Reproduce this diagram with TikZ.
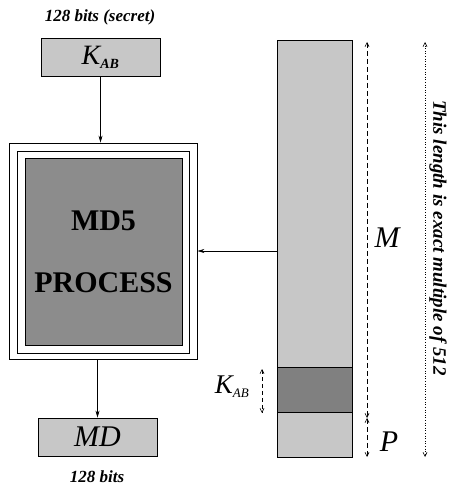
\documentclass[tikz,border=0pt]{standalone}
\usepackage{fontspec}
\setmainfont{Liberation Serif}
\usetikzlibrary{arrows.meta}

\begin{document}
\begin{tikzpicture}[x=1pt, y=-1pt,
    box/.style={draw=black, thick, fill=black!22, inner sep=0pt},
    dark/.style={box, fill=black!50},
    frame/.style={draw=black, thick, inner sep=0pt},
    flow/.style={-{Stealth[length=7pt,width=4pt]}, semithick},
    dim/.style={{Straight Barb[length=4pt,width=4pt]}-{Straight Barb[length=4pt,width=4pt]}, semithick},
    note/.style={font=\fontsize{17}{19}\selectfont\bfseries\itshape},
    big/.style={font=\fontsize{30}{32}\selectfont\itshape},
]
\useasboundingbox (0,0) rectangle (449,489);

% Key and its label
\node[note] (secret) at (100,17) {128 bits (secret)};
\node[box, minimum width=119pt, minimum height=38pt] (kbox) at (100.5,57)
    {\fontsize{28}{30}\selectfont\itshape K\textsubscript{\fontsize{14}{15}\selectfont\bfseries AB}};

% MD5 process, triple frame
\node[frame, minimum width=188pt, minimum height=216pt] (procout) at (103,251) {};
\node[frame, minimum width=172pt, minimum height=202pt] (procmid) at (103,252) {};
\node[dark, fill=black!45, minimum width=157pt, minimum height=187pt, align=center,
      font=\fontsize{30}{62}\selectfont\bfseries] (procin) at (103.5,251.5)
    {MD5\\PROCESS};

% Digest
\node[box, minimum width=119pt, minimum height=38pt] (mdbox) at (97.5,437)
    {\fontsize{30}{32}\selectfont\itshape MD};
\node[note] (bits) at (97,477) {128 bits};

% Message column: M, K_AB, padding
\node[box, minimum width=75pt, minimum height=327pt] (colM) at (314.5,203.5) {};
\node[dark, minimum width=75pt, minimum height=45pt] (colK) at (314.5,389.5) {};
\node[box, minimum width=75pt, minimum height=45pt] (colP) at (314.5,434.5) {};

% Flow arrows
\draw[flow] (kbox.south) -- (kbox.south |- procout.north);
\draw[flow] (colM.west |- procout.east) -- (procout.east);
\draw[flow] (mdbox.north |- procout.south) -- (mdbox.north);

% Length markers
\coordinate (mtop) at (367,42);
\coordinate (mbot) at (367,418);
\coordinate (pbot) at (367,457);
\coordinate (ktop) at (262,369);
\coordinate (kbot) at (262,413);
\coordinate (ltop) at (425,42);
\coordinate (lbot) at (425,457);
\draw[dim, dash pattern=on 5pt off 3pt] (mtop) -- (mbot);
\draw[dim, dash pattern=on 5pt off 3pt] (mbot) -- (pbot);
\draw[dim, dash pattern=on 4pt off 3pt] (ktop) -- (kbot);
\draw[dim, dotted] (ltop) -- (lbot);

\node[big] (mlab) at (387,238) {M};
\node[big] (plab) at (389,442) {P};
\node[font=\fontsize{27}{29}\selectfont\itshape] (klab) at (232,387)
    {K\textsubscript{\fontsize{13}{14}\selectfont AB}};
\node[font=\fontsize{19}{21}\selectfont\bfseries\itshape, rotate=-90] (llab) at (438,238)
    {This length is exact multiple of 512};

\end{tikzpicture}
\end{document}
